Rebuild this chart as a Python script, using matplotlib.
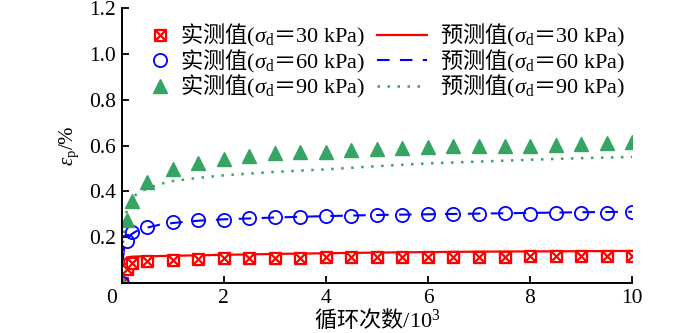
import matplotlib
matplotlib.use('Agg')
import matplotlib.pyplot as plt
import matplotlib.transforms as mtransforms
from matplotlib.path import Path

plt.rcParams['font.family'] = ['Liberation Serif', 'Noto Sans CJK SC']
plt.rcParams['mathtext.fontset'] = 'custom'
plt.rcParams['mathtext.rm'] = 'Liberation Serif'
plt.rcParams['mathtext.it'] = 'Liberation Serif:italic'
plt.rcParams['mathtext.sf'] = 'Noto Sans CJK SC'
plt.rcParams['font.size'] = 15

# measured points (cycles in 10^3, strain in %)
n_meas = [0, 0.1, 0.2, 0.5, 1, 1.5, 2, 2.5, 3, 3.5, 4, 4.5, 5, 5.5, 6, 6.5, 7, 7.5, 8, 8.5, 9, 9.5, 10]
eps_30 = [0, 0.062, 0.086, 0.098, 0.102, 0.105, 0.108, 0.108, 0.109, 0.110, 0.112, 0.112, 0.113, 0.113,
          0.114, 0.114, 0.115, 0.115, 0.116, 0.116, 0.117, 0.117, 0.119]
eps_60 = [0, 0.183, 0.224, 0.244, 0.265, 0.273, 0.277, 0.284, 0.287, 0.290, 0.291, 0.294, 0.298, 0.299,
          0.300, 0.300, 0.302, 0.304, 0.303, 0.306, 0.306, 0.307, 0.308]
eps_90 = [0, 0.273, 0.356, 0.440, 0.496, 0.524, 0.542, 0.553, 0.566, 0.570, 0.571, 0.582, 0.587, 0.590,
          0.594, 0.596, 0.598, 0.598, 0.600, 0.603, 0.605, 0.610, 0.615]

# predicted curves
n_pred = [0, 0.02, 0.05, 0.1, 0.2, 0.3, 0.5, 0.75, 1, 1.5, 2, 3, 4, 5, 6, 7, 8, 9, 10]
pred_30 = [0, 0.06, 0.10, 0.112, 0.115, 0.116, 0.117, 0.118, 0.119, 0.121, 0.123, 0.127, 0.130, 0.133,
           0.135, 0.137, 0.138, 0.139, 0.140]
pred_60 = [0, 0.10, 0.16, 0.19, 0.215, 0.228, 0.242, 0.255, 0.262, 0.272, 0.278, 0.286, 0.292, 0.297,
           0.300, 0.303, 0.306, 0.309, 0.311]
pred_90 = [0, 0.15, 0.26, 0.32, 0.37, 0.39, 0.413, 0.432, 0.445, 0.459, 0.470, 0.485, 0.496, 0.510,
           0.522, 0.530, 0.538, 0.545, 0.550]

loads = ['30', '60', '90']

red = '#ff0000'
blue = '#0000ff'
green = '#36a463'

# square with a cross inside
box_x = Path([(-1, -1), (1, -1), (1, 1), (-1, 1), (-1, -1), (-1, -1), (1, 1), (-1, 1), (1, -1)],
             [Path.MOVETO, Path.LINETO, Path.LINETO, Path.LINETO, Path.CLOSEPOLY,
              Path.MOVETO, Path.LINETO, Path.MOVETO, Path.LINETO])


def make_label(kind, load):
    return r'$\mathsf{' + kind + r'}$($\sigma_{\rm d}\mathsf{＝}$' + load + ' kPa)'


fig = plt.figure(figsize=(7, 3.33), dpi=100)
ax = fig.add_axes([0.174, 0.150, 0.729, 0.826])

l1, = ax.plot(n_pred, pred_30, color=red, lw=1.6)
l2, = ax.plot(n_pred, pred_60, color=blue, lw=1.5, ls=(0, (6, 5)))
l3, = ax.plot(n_pred, pred_90, color=green, lw=1.8, ls=(0, (1, 3)))

m1, = ax.plot(n_meas, eps_30, ls='none', marker=box_x, ms=8, mfc='white', mec=red, mew=1.6)
m2, = ax.plot(n_meas, eps_60, ls='none', marker='o', ms=9.5, mfc='none', mec=blue, mew=1.3)
m3, = ax.plot(n_meas, eps_90, ls='none', marker='^', ms=9.5, mfc=green, mec=green)

ax.set_xlim(0, 10)
ax.set_ylim(0, 1.2)
ax.set_xticks([0, 2, 4, 6, 8, 10])
ax.set_yticks([0, 0.2, 0.4, 0.6, 0.8, 1.0, 1.2])
ax.set_yticklabels(['', '0.2', '0.4', '0.6', '0.8', '1.0', '1.2'])
ax.tick_params(direction='in', length=5, width=1.3, pad=4, labelsize=15.5)
for side in ['top', 'right']:
    ax.spines[side].set_visible(False)
for side in ['left', 'bottom']:
    ax.spines[side].set_linewidth(1.4)

# shift the origin label a bit to the left
lab0 = ax.get_xticklabels()[0]
lab0.set_transform(lab0.get_transform() + mtransforms.ScaledTranslation(-0.1, 0, fig.dpi_scale_trans))

ax.set_xlabel(r'$\mathsf{循环次数}$/10$^3$', fontsize=16, labelpad=0)
ax.set_ylabel(r'$\varepsilon_{\rm p}$/%', fontsize=15, labelpad=6)

fig.legend([m1, m2, m3], [make_label('实测值', v) for v in loads],
           loc='upper left', bbox_to_anchor=(0.213, 0.933), frameon=False,
           handlelength=1.0, handletextpad=0.4, labelspacing=-0.08, borderpad=0,
           borderaxespad=0, fontsize=16)
fig.legend([l1, l2, l3], [make_label('预测值', v) for v in loads],
           loc='upper left', bbox_to_anchor=(0.539, 0.933), frameon=False,
           handlelength=2.25, handletextpad=0.55, labelspacing=-0.08, borderpad=0,
           borderaxespad=0, fontsize=16)

fig.savefig('out.png', dpi=100)
